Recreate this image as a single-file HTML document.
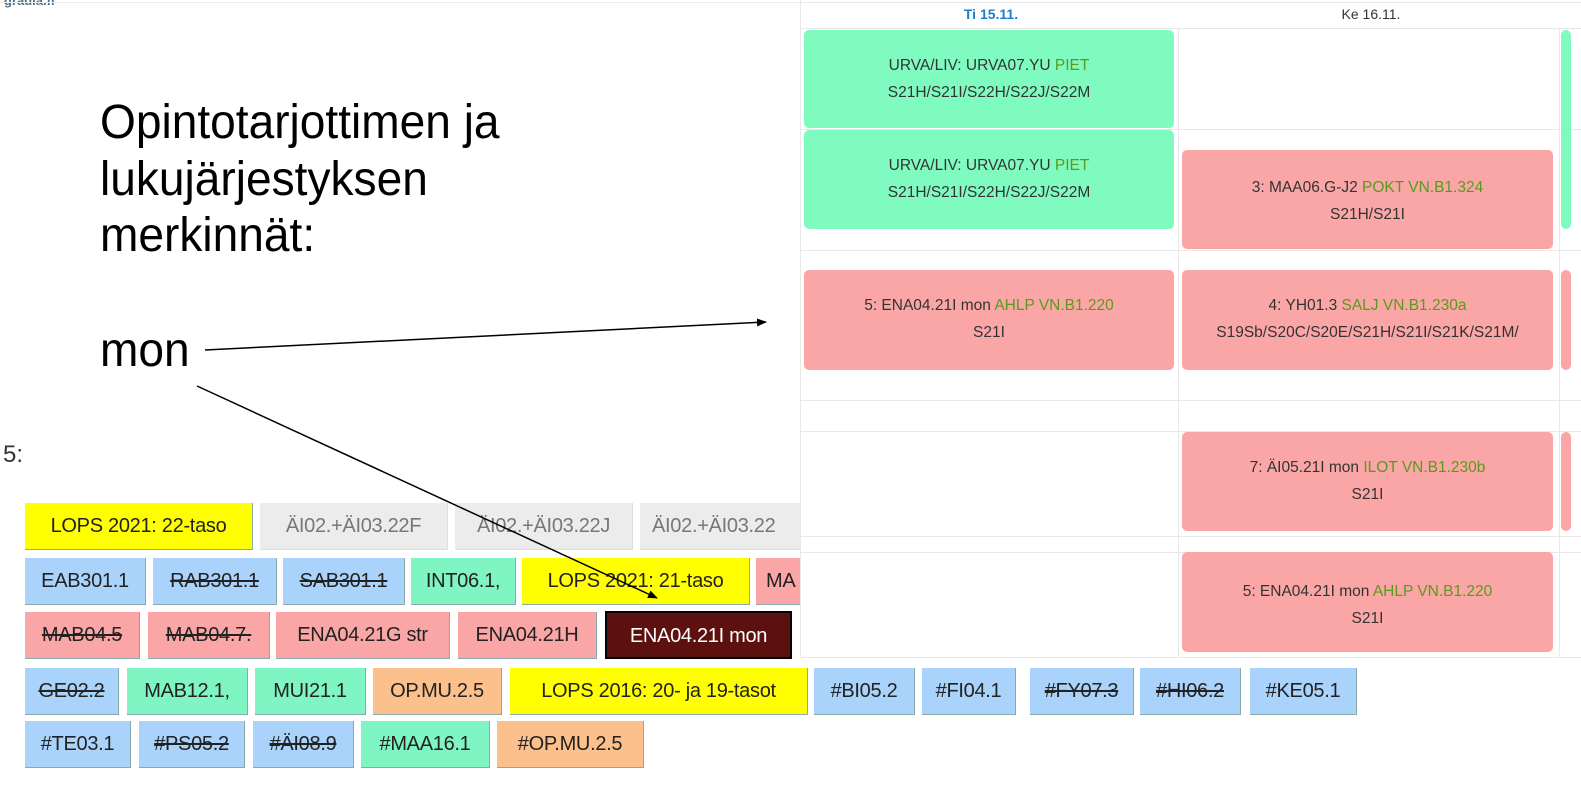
<!DOCTYPE html>
<html><head><meta charset="utf-8"><style>
*{margin:0;padding:0;box-sizing:border-box}
body{width:1581px;height:789px;background:#fff;position:relative;overflow:hidden;font-family:"Liberation Sans",sans-serif}
.c{position:absolute;height:47px;line-height:46px;text-align:center;font-size:20px;color:#222;white-space:nowrap;overflow:hidden;border-right:1px solid #8aa;border-bottom:1px solid #8aa;letter-spacing:-0.3px}
.s{text-decoration:line-through}
.b{background:#a9d3fb}.g{background:#80f5c4}.r{background:#fba6a6}.y{background:#ffff00}.o{background:#fcc08c}.e{background:#ececec;color:#777;border-color:#ddd}
.big{position:absolute;left:100px;font-size:48px;line-height:56px;color:#000;transform:scaleX(0.96);transform-origin:left top;white-space:nowrap}
#panel{position:absolute;left:800px;top:0;width:781px;height:658px;background:#fff;border-left:1px solid #e8e8e8;z-index:2}
.hl{position:absolute;left:0;width:781px;height:1px;background:#e8e8e8}
.vl{position:absolute;top:28px;width:1px;height:630px;background:#e8e8e8}
.card{position:absolute;border-radius:5px;text-align:center;font-size:15.5px;color:#333;line-height:27px;padding-top:22px}
.card .gr{color:#5a9a1a}
.cg{background:#80fbc0}.cr{background:#fba6a6}
</style></head><body>
<div style="position:absolute;left:4px;top:-7px;font-size:13px;font-weight:bold;color:#4a6f8a">gradia.fi</div>
<div style="position:absolute;left:0;top:2px;width:800px;height:1px;background:#eee"></div>
<div class="big" style="top:95px">Opintotarjottimen ja</div>
<div class="big" style="top:152px">lukujärjestyksen</div>
<div class="big" style="top:208px">merkinnät:</div>
<div class="big" style="top:323px">mon</div>
<div style="position:absolute;left:3px;top:441px;font-size:24px;color:#333">5:</div>

<div class="c y" style="left:25px;top:503px;width:228px">LOPS 2021: 22-taso</div>
<div class="c e" style="left:260px;top:503px;width:188px">ÄI02.+ÄI03.22F</div>
<div class="c e" style="left:455px;top:503px;width:178px">ÄI02.+ÄI03.22J</div>
<div class="c e" style="left:640px;top:503px;width:180px;text-align:left;padding-left:12px">ÄI02.+ÄI03.22</div>

<div class="c b" style="left:25px;top:558px;width:121px">EAB301.1</div>
<div class="c b s" style="left:153px;top:558px;width:124px">RAB301.1</div>
<div class="c b s" style="left:283px;top:558px;width:122px">SAB301.1</div>
<div class="c g" style="left:411px;top:558px;width:105px">INT06.1,</div>
<div class="c y" style="left:522px;top:558px;width:228px">LOPS 2021: 21-taso</div>
<div class="c r" style="left:756px;top:558px;width:70px;text-align:left;padding-left:10px">MA</div>

<div class="c r s" style="left:25px;top:612px;width:115px">MAB04.5</div>
<div class="c r s" style="left:148px;top:612px;width:122px">MAB04.7.</div>
<div class="c r" style="left:276px;top:612px;width:174px">ENA04.21G str</div>
<div class="c r" style="left:458px;top:612px;width:139px">ENA04.21H</div>
<div class="c" style="left:605px;top:611px;width:187px;height:48px;background:#5c1010;color:#fff;border:2px solid #000">ENA04.21I mon</div>

<div class="c b s" style="left:25px;top:668px;width:94px">GE02.2</div>
<div class="c g" style="left:127px;top:668px;width:121px">MAB12.1,</div>
<div class="c g" style="left:255px;top:668px;width:111px">MUI21.1</div>
<div class="c o" style="left:373px;top:668px;width:129px">OP.MU.2.5</div>
<div class="c y" style="left:510px;top:668px;width:298px">LOPS 2016: 20- ja 19-tasot</div>
<div class="c b" style="left:814px;top:668px;width:101px">#BI05.2</div>
<div class="c b" style="left:922px;top:668px;width:94px">#FI04.1</div>
<div class="c b s" style="left:1030px;top:668px;width:104px">#FY07.3</div>
<div class="c b s" style="left:1140px;top:668px;width:101px">#HI06.2</div>
<div class="c b" style="left:1250px;top:668px;width:107px">#KE05.1</div>

<div class="c b" style="left:25px;top:721px;width:106px">#TE03.1</div>
<div class="c b s" style="left:139px;top:721px;width:106px">#PS05.2</div>
<div class="c b s" style="left:253px;top:721px;width:101px">#ÄI08.9</div>
<div class="c g" style="left:361px;top:721px;width:129px">#MAA16.1</div>
<div class="c o" style="left:497px;top:721px;width:147px">#OP.MU.2.5</div>

<div id="panel">
 <div class="hl" style="top:2px"></div>
 <div style="position:absolute;left:0;width:380px;top:6px;text-align:center;font-size:14px;font-weight:bold;color:#1a7fc8">Ti 15.11.</div>
 <div style="position:absolute;left:380px;width:380px;top:6px;text-align:center;font-size:14px;color:#333">Ke 16.11.</div>
 <div class="hl" style="top:28px"></div>
 <div class="hl" style="top:129px"></div>
 <div class="hl" style="top:250px"></div>
 <div class="hl" style="top:400px"></div>
 <div class="hl" style="top:431px"></div>
 <div class="hl" style="top:536px"></div>
 <div class="hl" style="top:552px"></div>
 <div class="hl" style="top:657px"></div>
 <div class="vl" style="left:377px"></div>
 <div class="vl" style="left:758px"></div>
 <div class="card cg" style="left:3px;top:30px;width:370px;height:98px">URVA/LIV: URVA07.YU <span class="gr">PIET</span><br>S21H/S21I/S22H/S22J/S22M</div>
 <div class="card cg" style="left:3px;top:130px;width:370px;height:99px">URVA/LIV: URVA07.YU <span class="gr">PIET</span><br>S21H/S21I/S22H/S22J/S22M</div>
 <div class="card cr" style="left:3px;top:270px;width:370px;height:100px">5: ENA04.21I mon <span class="gr">AHLP VN.B1.220</span><br>S21I</div>
 <div class="card cr" style="left:381px;top:150px;width:371px;height:99px;padding-top:24px">3: MAA06.G-J2 <span class="gr">POKT VN.B1.324</span><br>S21H/S21I</div>
 <div class="card cr" style="left:381px;top:270px;width:371px;height:100px;overflow:hidden;white-space:nowrap">4: YH01.3 <span class="gr">SALJ VN.B1.230a</span><br>S19Sb/S20C/S20E/S21H/S21I/S21K/S21M/</div>
 <div class="card cr" style="left:381px;top:432px;width:371px;height:99px">7: ÄI05.21I mon <span class="gr">ILOT VN.B1.230b</span><br>S21I</div>
 <div class="card cr" style="left:381px;top:552px;width:371px;height:100px;padding-top:26px">5: ENA04.21I mon <span class="gr">AHLP VN.B1.220</span><br>S21I</div>
 <div class="card cg" style="left:760px;top:30px;width:10px;height:199px;padding:0"></div>
 <div class="card cr" style="left:760px;top:270px;width:10px;height:100px;padding:0"></div>
 <div class="card cr" style="left:760px;top:432px;width:10px;height:99px;padding:0"></div>
</div>

<svg style="position:absolute;left:0;top:0;z-index:5" width="1581" height="789">
 <defs><marker id="a" markerWidth="10" markerHeight="8" refX="9" refY="4" orient="auto" markerUnits="userSpaceOnUse"><path d="M0,0 L10,4 L0,8 z" fill="#000"/></marker></defs>
 <line x1="205" y1="350" x2="766" y2="322" stroke="#000" stroke-width="1.5" marker-end="url(#a)"/>
 <line x1="197" y1="386" x2="657" y2="598" stroke="#000" stroke-width="1.5" marker-end="url(#a)"/>
</svg>
</body></html>
